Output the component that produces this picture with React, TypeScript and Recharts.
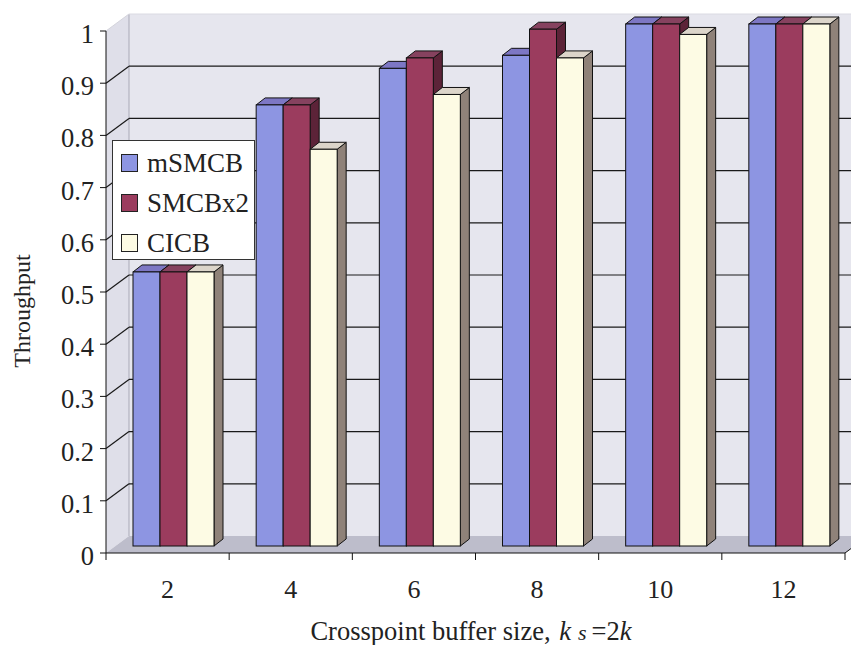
import React from 'react';
import { BarChart, Bar, XAxis, YAxis, CartesianGrid, ReferenceArea, Legend } from 'recharts';

// Crosspoint buffer sizes and throughput per scheme
const sizes = ['2', '4', '6', '8', '10', '12'];
const mSMCB = [0.525, 0.845, 0.915, 0.94, 1.0, 1.0];
const SMCBx2 = [0.525, 0.845, 0.935, 0.99, 1.0, 1.0];
const CICB = [0.525, 0.76, 0.865, 0.935, 0.98, 1.0];
const yTicks = [0, 0.1, 0.2, 0.3, 0.4, 0.5, 0.6, 0.7, 0.8, 0.9, 1];
const seriesOrder = ['mSMCB', 'SMCBx2', 'CICB'];

const data = sizes.map((s, i) => ({ size: s, mSMCB: mSMCB[i], SMCBx2: SMCBx2[i], CICB: CICB[i] }));

// Layout
const W = 851;
const H = 645;
const MARGIN = { top: 31, right: 6, bottom: 0, left: 0 };
const Y_AXIS_W = 106;
const X_AXIS_H = 92;
const PLOT_LEFT = MARGIN.left + Y_AXIS_W;
const PLOT_TOP = MARGIN.top;
const PLOT_BOTTOM = H - X_AXIS_H;
const PLOT_W = W - MARGIN.right - PLOT_LEFT;
const BAND = PLOT_W / sizes.length;
const DEPTH = { dx: 23, dy: -17 }; // wall depth (oblique projection)
const BAR_SHIFT = { dx: 6, dy: -7 }; // bars sit part-way into the box
const BAR_DEPTH = { dx: 9, dy: -7 };
const FONT = '"Liberation Serif", "Times New Roman", serif';

const styles: Record<string, { front: string; top: string; side: string }> = {
  mSMCB: { front: '#8d95e2', top: '#7d77c4', side: '#5d5fa6' },
  SMCBx2: { front: '#9b3c5e', top: '#86425f', side: '#5c2338' },
  CICB: { front: '#fdfbe4', top: '#dcd5ca', side: '#8f8279' },
};

const makeBar3D = (c: { front: string; top: string; side: string }) => (props: any) => {
  const { x, y, width, height } = props;
  if (height == null || isNaN(height)) return <g />;
  const x0 = x + BAR_SHIFT.dx;
  const y0 = y + BAR_SHIFT.dy;
  const w = width;
  const h = height;
  const { dx, dy } = BAR_DEPTH;
  return (
    <g>
      <polygon
        points={`${x0 + w},${y0} ${x0 + w + dx},${y0 + dy} ${x0 + w + dx},${y0 + h + dy} ${x0 + w},${y0 + h}`}
        fill={c.side}
        stroke="#111"
        strokeWidth={1}
      />
      <polygon
        points={`${x0},${y0} ${x0 + dx},${y0 + dy} ${x0 + w + dx},${y0 + dy} ${x0 + w},${y0}`}
        fill={c.top}
        stroke="#111"
        strokeWidth={1}
      />
      <rect x={x0} y={y0} width={w} height={h} fill={c.front} stroke="#111" strokeWidth={1} />
    </g>
  );
};

// Back wall, side wall and floor of the 3-D box
const Walls = (props: any) => {
  const { x, y, width, height } = props;
  const { dx, dy } = DEPTH;
  const bx = x + dx;
  const by = y + dy;
  const bb = y + height + dy;
  const fb = y + height;
  return (
    <g>
      <rect x={bx} y={by} width={width} height={height} fill="#e6e6ee" />
      <polygon points={`${x},${y} ${bx},${by} ${bx},${bb} ${x},${fb}`} fill="#dfdfe9" />
      <polygon points={`${x},${fb} ${bx},${bb} ${bx + width},${bb} ${x + width},${fb}`} fill="#bdbdcb" />
      <line x1={bx} y1={by} x2={bx} y2={bb} stroke="#a9a9b6" strokeWidth={1} />
      <line x1={x} y1={y} x2={bx} y2={by} stroke="#d4d4dc" strokeWidth={1} />
      <line x1={bx} y1={by} x2={bx + width} y2={by} stroke="#dadae2" strokeWidth={1} />
      <line x1={x + width} y1={fb} x2={x + width + dx} y2={bb} stroke="#111" strokeWidth={1} />
    </g>
  );
};

const gridLine = (p: any) => {
  const { x1, y1, x2 } = p;
  if (Math.abs(y1 - PLOT_TOP) < 0.5 || Math.abs(y1 - PLOT_BOTTOM) < 0.5) return <g key={p.key} />;
  const { dx, dy } = DEPTH;
  return (
    <g key={p.key}>
      <line x1={x1} y1={y1} x2={x1 + dx} y2={y1 + dy} stroke="#1a1a1a" strokeWidth={1.2} />
      <line x1={x1 + dx} y1={y1 + dy} x2={x2 + dx} y2={y1 + dy} stroke="#1a1a1a" strokeWidth={1.2} />
    </g>
  );
};

const YTick = (props: any) => {
  const { x, y, payload } = props;
  return (
    <text x={x} y={y} dy={12} textAnchor="end" fontFamily={FONT} fontSize={26.5} fill="#222">
      {String(payload.value)}
    </text>
  );
};

const XTick = (props: any) => {
  const { x, payload, index } = props;
  const left = x - BAND / 2;
  return (
    <g>
      <line x1={left} y1={PLOT_BOTTOM} x2={left} y2={PLOT_BOTTOM + 7} stroke="#111" />
      {index === sizes.length - 1 && (
        <line x1={x + BAND / 2} y1={PLOT_BOTTOM} x2={x + BAND / 2} y2={PLOT_BOTTOM + 7} stroke="#111" />
      )}
      <text x={x} y={PLOT_BOTTOM + 45} textAnchor="middle" fontFamily={FONT} fontSize={26} fill="#222">
        {payload.value}
      </text>
    </g>
  );
};

const XTitle = () => (
  <text x={471} y={640} textAnchor="middle" fontFamily={FONT} fontSize={26.5} fill="#222">
    Crosspoint buffer size,{' '}
    <tspan fontStyle="italic" dx={2}>k</tspan>
    <tspan fontStyle="italic" fontSize={22} dx={7}>s</tspan>
    <tspan dx={5}>=2</tspan>
    <tspan fontStyle="italic">k</tspan>
  </text>
);

const YTitle = () => (
  <text
    x={22}
    y={311}
    transform="rotate(-90 22 311)"
    textAnchor="middle"
    dominantBaseline="central"
    fontFamily={FONT}
    fontSize={24}
    fill="#222"
  >
    Throughput
  </text>
);

const LegendBox = (props: any) => {
  const { payload = [] } = props;
  const items = seriesOrder
    .map((k) => payload.find((e: any) => e.dataKey === k || e.value === k))
    .filter(Boolean);
  return (
    <div
      style={{
        width: 143,
        height: 120,
        background: '#fff',
        border: '1px solid #333',
        boxSizing: 'border-box',
        fontFamily: FONT,
        fontSize: 27,
        color: '#222',
        paddingTop: 2,
        paddingLeft: 8,
      }}
    >
      {items.map((e: any) => (
        <div key={e.value} style={{ display: 'flex', alignItems: 'center', height: 40 }}>
          <span
            style={{
              display: 'inline-block',
              width: 17,
              height: 18,
              background: e.color,
              border: '1px solid #222',
              boxSizing: 'border-box',
              marginRight: 9,
              flexShrink: 0,
            }}
          />
          <span style={{ lineHeight: '40px', whiteSpace: 'nowrap' }}>{e.value}</span>
        </div>
      ))}
    </div>
  );
};

export default function App() {
  return (
    <div style={{ position: 'absolute', left: 0, top: 0, width: W, height: H, overflow: 'hidden', background: '#fff' }}>
      <BarChart width={W} height={H} data={data} margin={MARGIN} barGap={0} barSize={27}>
        <ReferenceArea y1={0} y2={1} shape={Walls} zIndex={-200} ifOverflow="visible" />
        <CartesianGrid vertical={false} horizontal={gridLine} zIndex={-100} />
        <XAxis
          dataKey="size"
          height={X_AXIS_H}
          interval={0}
          axisLine={{ stroke: '#111' }}
          tickLine={false}
          tick={<XTick />}
          label={<XTitle />}
        />
        <YAxis
          width={Y_AXIS_W}
          domain={[0, 1]}
          ticks={yTicks}
          interval={0}
          axisLine={{ stroke: '#111' }}
          tickLine={{ stroke: '#111' }}
          tickSize={6}
          tickMargin={6}
          tick={<YTick />}
          label={<YTitle />}
        />
        <Legend
          layout="vertical"
          verticalAlign="middle"
          align="center"
          content={<LegendBox />}
          wrapperStyle={{ left: 112, top: 140, width: 143, height: 120 }}
        />
        <Bar dataKey="mSMCB" name="mSMCB" fill={styles.mSMCB.front} shape={makeBar3D(styles.mSMCB)} isAnimationActive={false} />
        <Bar dataKey="SMCBx2" name="SMCBx2" fill={styles.SMCBx2.front} shape={makeBar3D(styles.SMCBx2)} isAnimationActive={false} />
        <Bar dataKey="CICB" name="CICB" fill={styles.CICB.front} shape={makeBar3D(styles.CICB)} isAnimationActive={false} />
      </BarChart>
    </div>
  );
}
